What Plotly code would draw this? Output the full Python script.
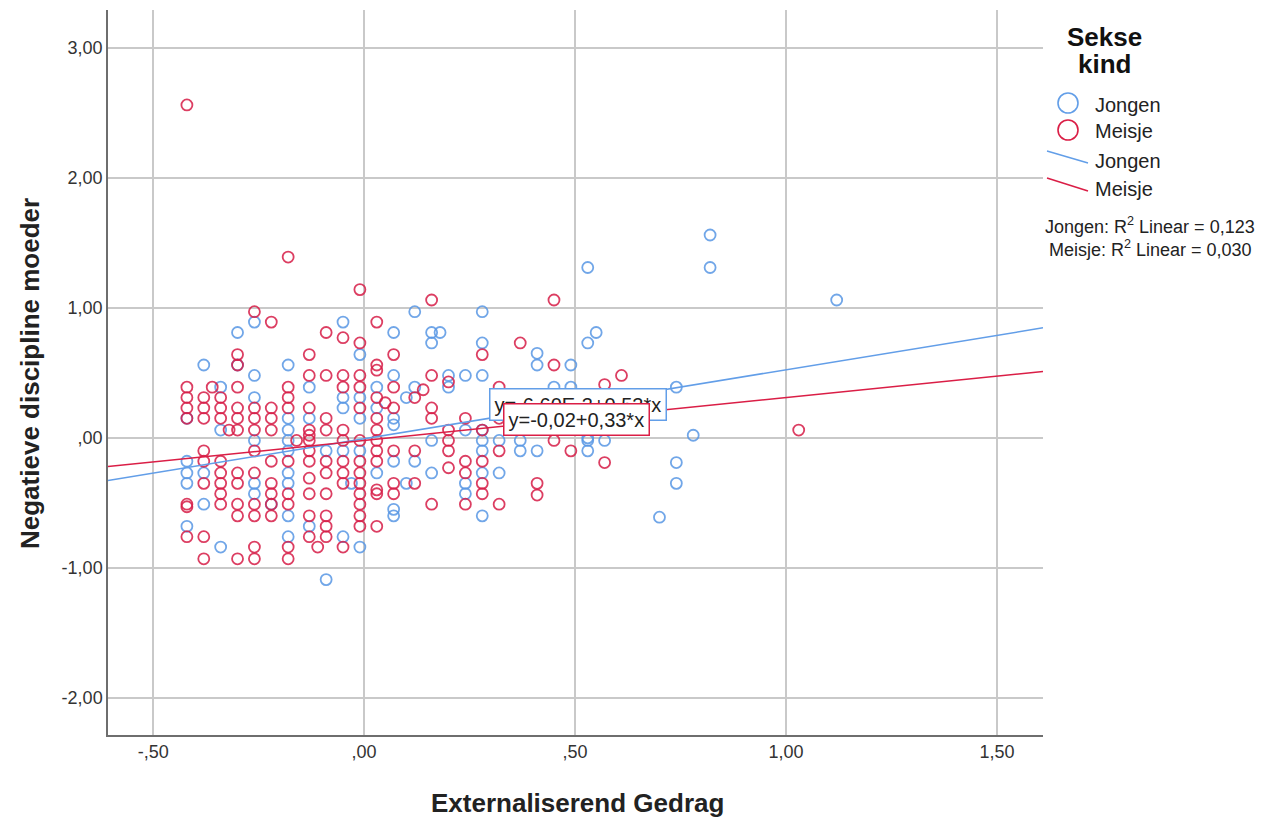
import plotly.graph_objects as go

# ---------------- data ----------------
boys_x = [-0.42, -0.42, -0.42, -0.42, -0.42,
          -0.38, -0.38, -0.38,
          -0.34, -0.34, -0.34,
          -0.30, -0.30,
          -0.26, -0.26, -0.26, -0.26, -0.26, -0.26,
          -0.22,
          -0.18, -0.18, -0.18, -0.18, -0.18, -0.18, -0.18, -0.18, -0.18,
          -0.13, -0.13, -0.13,
          -0.09, -0.09,
          -0.05, -0.05, -0.05, -0.05, -0.05,
          -0.03,
          -0.01, -0.01, -0.01, -0.01, -0.01,
          0.03, 0.03, 0.03,
          0.07, 0.07, 0.07, 0.07, 0.07, 0.07, 0.07,
          0.10, 0.10,
          0.12, 0.12, 0.12,
          0.16, 0.16, 0.16, 0.16,
          0.18,
          0.20, 0.20,
          0.24, 0.24, 0.24, 0.24,
          0.28, 0.28, 0.28, 0.28, 0.28, 0.28, 0.28, 0.28,
          0.32, 0.32, 0.32,
          0.37, 0.37,
          0.41, 0.41, 0.41,
          0.45,
          0.49, 0.49,
          0.53, 0.53, 0.53, 0.53, 0.53,
          0.55,
          0.57,
          0.74, 0.78, 0.74, 0.74, 0.70, 0.82, 0.82, 1.12]
boys_y = [0.15, -0.18, -0.27, -0.35, -0.68,
          0.56, -0.27, -0.51,
          0.39, 0.06, -0.84,
          0.81, 0.56,
          0.89, 0.48, 0.31, -0.02, -0.35, -0.43,
          -0.51,
          0.56, 0.15, 0.06, -0.02, -0.10, -0.27, -0.35, -0.60, -0.76,
          0.39, 0.15, -0.68,
          -0.10, -1.09,
          0.89, 0.31, 0.23, -0.10, -0.76,
          -0.35,
          0.64, 0.31, 0.15, -0.10, -0.84,
          0.39, 0.23, -0.27,
          0.81, 0.48, 0.15, 0.10, -0.18, -0.55, -0.60,
          0.31, -0.35,
          0.97, 0.39, -0.18,
          0.81, 0.73, -0.02, -0.27,
          0.81,
          0.48, 0.39,
          0.48, 0.06, -0.35, -0.43,
          0.97, 0.73, 0.48, 0.06, -0.02, -0.10, -0.27, -0.60,
          0.31, -0.02, -0.27,
          -0.02, -0.10,
          0.65, 0.56, -0.10,
          0.39,
          0.56, 0.39,
          1.31, 0.73, 0.00, -0.02, -0.10,
          0.81,
          -0.02,
          0.39, 0.02, -0.19, -0.35, -0.61, 1.56, 1.31, 1.06]

girls_x = [-0.42, -0.42, -0.42, -0.42, -0.42, -0.42, -0.42, -0.42,
           -0.38, -0.38, -0.38, -0.38, -0.38, -0.38, -0.38, -0.38,
           -0.36,
           -0.34, -0.34, -0.34, -0.34, -0.34, -0.34, -0.34, -0.34,
           -0.32,
           -0.30, -0.30, -0.30, -0.30, -0.30, -0.30, -0.30, -0.30, -0.30, -0.30, -0.30,
           -0.26, -0.26, -0.26, -0.26, -0.26, -0.26, -0.26, -0.26, -0.26, -0.26,
           -0.22, -0.22, -0.22, -0.22, -0.22, -0.22, -0.22, -0.22, -0.22,
           -0.18, -0.18, -0.18, -0.18, -0.18, -0.18, -0.18, -0.18, -0.18,
           -0.16,
           -0.13, -0.13, -0.13, -0.13, -0.13, -0.13, -0.13, -0.13, -0.13, -0.13, -0.13, -0.13,
           -0.11,
           -0.09, -0.09, -0.09, -0.09, -0.09, -0.09, -0.09, -0.09, -0.09, -0.09,
           -0.05, -0.05, -0.05, -0.05, -0.05, -0.05, -0.05, -0.05, -0.05,
           -0.01, -0.01, -0.01, -0.01, -0.01, -0.01, -0.01, -0.01, -0.01, -0.01, -0.01, -0.01, -0.01,
           0.03, 0.03, 0.03, 0.03, 0.03, 0.03, 0.03, 0.03, 0.03, 0.03, 0.03, 0.03,
           0.05,
           0.07, 0.07, 0.07, 0.07, 0.07, 0.07,
           0.12, 0.12, 0.12,
           0.14,
           0.16, 0.16, 0.16, 0.16, 0.16,
           0.20, 0.20, 0.20, 0.20, 0.20,
           0.24, 0.24, 0.24, 0.24,
           0.28, 0.28, 0.28, 0.28, 0.28,
           0.32, 0.32, 0.32, 0.32,
           0.37,
           0.41, 0.41,
           0.45, 0.45, 0.45,
           0.49,
           0.57, 0.57,
           0.61, 1.03]
girls_y = [2.56, 0.39, 0.31, 0.23, 0.15, -0.51, -0.53, -0.76,
           0.31, 0.23, 0.15, -0.10, -0.18, -0.35, -0.76, -0.93,
           0.39,
           0.31, 0.23, 0.15, -0.18, -0.27, -0.35, -0.43, -0.51,
           0.06,
           0.64, 0.56, 0.39, 0.23, 0.15, 0.06, -0.27, -0.35, -0.51, -0.60, -0.93,
           0.97, 0.23, 0.15, 0.06, -0.10, -0.27, -0.51, -0.60, -0.84, -0.93,
           0.89, 0.23, 0.15, 0.06, -0.18, -0.35, -0.43, -0.51, -0.60,
           1.39, 0.39, 0.31, 0.23, -0.18, -0.43, -0.51, -0.84, -0.93,
           -0.02,
           0.64, 0.48, 0.23, 0.06, 0.02, -0.02, -0.10, -0.18, -0.31, -0.43, -0.60, -0.76,
           -0.84,
           0.81, 0.48, 0.15, 0.06, -0.18, -0.27, -0.43, -0.60, -0.68, -0.76,
           0.77, 0.48, 0.39, 0.06, -0.02, -0.18, -0.27, -0.35, -0.84,
           1.14, 0.73, 0.48, 0.39, 0.23, -0.02, -0.18, -0.27, -0.35, -0.43, -0.51, -0.60, -0.68,
           0.89, 0.56, 0.52, 0.31, 0.15, 0.06, -0.02, -0.10, -0.18, -0.40, -0.43, -0.68,
           0.27,
           0.64, 0.39, 0.23, -0.10, -0.35, -0.43,
           0.31, -0.10, -0.35,
           0.37,
           1.06, 0.48, 0.23, 0.15, -0.51,
           0.43, 0.06, -0.02, -0.10, -0.23,
           0.15, -0.18, -0.27, -0.51,
           0.64, 0.06, -0.18, -0.35, -0.43,
           0.39, 0.15, -0.10, -0.51,
           0.73,
           -0.35, -0.44,
           1.06, 0.56, -0.02,
           -0.10,
           0.41, -0.19,
           0.48, 0.06]

# fit lines (as printed on the chart)
boys_intercept, boys_slope = -0.0066, 0.53
girls_intercept, girls_slope = -0.02, 0.33
boys_eq = "y=-6,60E-3+0,53*x"
girls_eq = "y=-0,02+0,33*x"
r2_texts = ["Jongen: R<sup>2</sup> Linear = 0,123", "Meisje: R<sup>2</sup> Linear = 0,030"]

x_ticks = [-0.5, 0.0, 0.5, 1.0, 1.5]
x_ticktext = ["-,50", ",00", ",50", "1,00", "1,50"]
y_ticks = [-2, -1, 0, 1, 2, 3]
y_ticktext = ["-2,00", "-1,00", ",00", "1,00", "2,00", "3,00"]

# ---------------- style ----------------
FONT = "Liberation Sans, Arial, sans-serif"
BLUE = "rgba(88,150,228,0.85)"
RED = "rgba(214,28,70,0.85)"
BLUE_LINE = "rgb(98,158,232)"
RED_LINE = "rgb(218,30,70)"
XR = [-0.607, 1.609]
YR = [-2.285, 3.29]

OFF = 8  # page body margin
W, H = 1266 - OFF, 818 - OFF
L, T = 108 - OFF, 10 - OFF
PR, PB = 1043 - OFF, 735 - OFF  # plot right / bottom in figure px
R, B = W - PR, H - PB
PW, PH = PR - L, PB - T


def px(xp):  # reference pixel -> paper
    return (xp - OFF - L) / PW


def py(yp):
    return (PB - (yp - OFF)) / PH


fig = go.Figure()
fig.add_trace(go.Scatter(x=boys_x, y=boys_y, mode="markers", name="Jongen",
                         marker=dict(symbol="circle-open", size=11, color=BLUE,
                                     line=dict(width=1.8))))
fig.add_trace(go.Scatter(x=girls_x, y=girls_y, mode="markers", name="Meisje",
                         marker=dict(symbol="circle-open", size=11, color=RED,
                                     line=dict(width=1.8))))
fig.add_trace(go.Scatter(x=XR, y=[boys_intercept + boys_slope * v for v in XR],
                         mode="lines", line=dict(color=BLUE_LINE, width=1.5)))
fig.add_trace(go.Scatter(x=XR, y=[girls_intercept + girls_slope * v for v in XR],
                         mode="lines", line=dict(color=RED_LINE, width=1.5)))

ann = []
# equation labels
ann.append(dict(x=0.296, y=0.385, xref="x", yref="y", xanchor="left", yanchor="top",
                text=boys_eq, showarrow=False, font=dict(family=FONT, size=20, color="#222"),
                bgcolor="white", bordercolor=BLUE_LINE, borderwidth=1.5, borderpad=4))
ann.append(dict(x=0.329, y=0.27, xref="x", yref="y", xanchor="left", yanchor="top",
                text=girls_eq, showarrow=False, font=dict(family=FONT, size=20, color="#222"),
                bgcolor="white", bordercolor=RED_LINE, borderwidth=1.5, borderpad=4))
# axis titles
ann.append(dict(x=px(577), y=py(803), xref="paper", yref="paper", xanchor="center", yanchor="middle",
                text="<b>Externaliserend Gedrag</b>",
                showarrow=False, font=dict(family=FONT, size=26, color="#222")))
ann.append(dict(x=px(30), y=py(374), xref="paper", yref="paper", xanchor="center", yanchor="middle",
                text="<b>Negatieve discipline moeder</b>",
                showarrow=False, textangle=-90, font=dict(family=FONT, size=26, color="#222")))
# legend
ann.append(dict(x=px(1104), y=py(37), xref="paper", yref="paper", xanchor="center", yanchor="middle",
                text="<b>Sekse</b>", showarrow=False, font=dict(family=FONT, size=26, color="#111")))
ann.append(dict(x=px(1104), y=py(64), xref="paper", yref="paper", xanchor="center", yanchor="middle",
                text="<b>kind</b>", showarrow=False, font=dict(family=FONT, size=26, color="#111")))
for txt, yp in [("Jongen", 105), ("Meisje", 131), ("Jongen", 161), ("Meisje", 189)]:
    ann.append(dict(x=px(1093), y=py(yp), xref="paper", yref="paper", text=txt,
                    xanchor="left", yanchor="middle",
                    showarrow=False, font=dict(family=FONT, size=20, color="#222")))
for txt, yp in zip(r2_texts, [226, 248]):
    ann.append(dict(x=px(1150), y=py(yp), xref="paper", yref="paper", text=txt,
                    xanchor="center", yanchor="middle",
                    showarrow=False, font=dict(family=FONT, size=18, color="#222")))

shapes = []
for col, yc in [(BLUE_LINE, 103), (RED_LINE, 130)]:
    shapes.append(dict(type="circle", xref="paper", yref="paper",
                       x0=px(1058), x1=px(1078), y0=py(yc + 10), y1=py(yc - 10),
                       line=dict(color=col, width=1.6)))
shapes.append(dict(type="line", xref="paper", yref="paper", x0=px(1047), x1=px(1088),
                   y0=py(151), y1=py(163), line=dict(color=BLUE_LINE, width=1.5)))
shapes.append(dict(type="line", xref="paper", yref="paper", x0=px(1047), x1=px(1088),
                   y0=py(178), y1=py(191), line=dict(color=RED_LINE, width=1.5)))
shapes.append(dict(type="line", xref="paper", yref="paper", x0=px(628), x1=px(635),
                   y0=py(4), y1=py(4), line=dict(color="#333", width=1.5)))

fig.update_layout(
    width=W, height=H, margin=dict(l=L, r=R, t=T, b=B),
    paper_bgcolor="white", plot_bgcolor="white", showlegend=False,
    font=dict(family=FONT, size=18, color="#333"),
    annotations=ann, shapes=shapes,
    xaxis=dict(range=XR, tickvals=x_ticks, ticktext=x_ticktext, showgrid=True,
               gridcolor="#c9c9c9", gridwidth=1.6, zeroline=False, showline=True,
               linecolor="#6e6e6e", linewidth=1.5, ticks="", tickfont=dict(size=18, color="#333")),
    yaxis=dict(range=YR, tickvals=y_ticks, ticktext=y_ticktext, showgrid=True,
               gridcolor="#c9c9c9", gridwidth=1.6, zeroline=False, showline=True,
               linecolor="#6e6e6e", linewidth=1.5, ticks="", tickfont=dict(size=18, color="#333")),
)

fig.write_html("out.html")
